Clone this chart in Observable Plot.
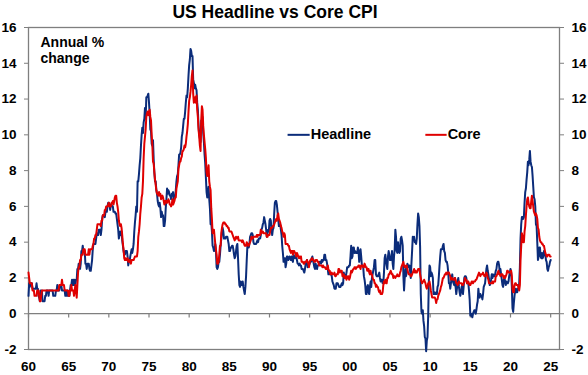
<!DOCTYPE html>
<html><head><meta charset="utf-8">
<script src="https://cdn.jsdelivr.net/npm/d3@7"></script>
<script src="https://cdn.jsdelivr.net/npm/@observablehq/plot@0.6"></script>
<style>
body{margin:0;background:#fff;}
#chart{width:588px;height:375px;}
#chart svg text{font-weight:bold;}
</style>
</head><body><div id="chart"></div>
<script>
// Monthly annual % change, starting January 1960
const startYear = 1960;
const headline = [
1.0,1.7,1.5,1.7,1.7,1.7,1.4,1.4,1.4,1.4,1.4,1.4, // 1960
1.7,1.4,1.4,1.0,0.9,0.7,1.3,1.0,1.3,0.7,0.7,0.7, // 1961
0.7,1.0,1.0,1.3,1.3,1.3,1.0,1.3,1.3,1.3,1.3,1.3, // 1962
1.3,1.0,1.0,1.0,1.0,1.3,1.3,1.6,1.3,1.3,1.3,1.6, // 1963
1.6,1.6,1.3,1.3,1.3,1.3,1.3,1.0,1.3,1.0,1.3,1.0, // 1964
1.0,1.0,1.3,1.6,1.6,1.9,1.6,1.9,1.6,1.9,1.6,1.9, // 1965
1.9,2.5,2.5,2.8,2.8,2.5,2.8,3.5,3.5,3.8,3.5,3.5, // 1966
3.5,2.8,2.8,2.5,2.8,2.8,2.8,2.5,2.4,2.4,2.7,3.0, // 1967
3.6,3.9,3.9,3.9,3.9,4.2,4.5,4.4,4.4,4.7,4.7,4.7, // 1968
4.4,4.7,5.3,5.5,5.5,5.5,5.4,5.7,5.7,5.7,6.0,6.2, // 1969
6.2,6.1,5.8,6.1,6.1,6.0,6.0,5.7,5.7,5.7,5.6,5.6, // 1970
5.3,5.0,4.7,4.2,4.4,4.6,4.4,4.6,4.1,3.8,3.5,3.3, // 1971
3.3,3.5,3.5,3.5,3.2,2.7,2.9,2.9,3.2,3.4,3.6,3.4, // 1972
3.6,3.9,4.6,5.1,5.5,6.0,5.7,7.4,7.4,7.8,8.3,8.7, // 1973
9.4,10.0,10.4,10.1,10.7,10.9,11.5,10.9,12.1,12.1,12.2,12.3, // 1974
11.8,11.2,10.3,10.2,9.5,9.4,9.7,8.6,7.9,7.4,7.4,6.9, // 1975
6.7,6.3,6.1,6.0,6.2,5.9,5.4,5.7,5.5,5.5,4.9,4.9, // 1976
5.2,5.9,6.4,7.0,6.7,6.9,6.8,6.6,6.6,6.4,6.7,6.7, // 1977
6.8,6.4,6.6,6.5,6.9,7.4,7.7,7.8,8.3,8.9,8.9,9.0, // 1978
9.3,9.9,10.1,10.5,10.9,10.9,11.3,11.8,12.2,12.1,12.6,13.3, // 1979
13.9,14.2,14.8,14.7,14.4,14.4,13.1,12.9,12.6,12.8,12.6,12.5, // 1980
11.8,11.4,10.5,10.0,9.8,9.6,10.8,10.8,11.0,10.1,9.6,8.9, // 1981
8.4,7.6,6.8,6.5,6.7,7.1,6.4,5.9,5.0,5.1,4.6,3.8, // 1982
3.7,3.5,3.6,3.9,3.5,2.6,2.5,2.6,2.9,2.9,3.3,3.8, // 1983
4.2,4.6,4.8,4.6,4.2,4.2,4.2,4.3,4.3,4.3,4.1,3.9, // 1984
3.5,3.5,3.7,3.7,3.8,3.8,3.6,3.3,3.1,3.2,3.5,3.8, // 1985
3.9,3.1,2.2,1.6,1.5,1.8,1.6,1.6,1.8,1.5,1.3,1.1, // 1986
1.5,2.1,3.0,3.8,3.9,3.7,3.9,4.3,4.4,4.5,4.5,4.4, // 1987
4.0,3.9,3.9,3.9,3.9,4.0,4.1,4.0,4.2,4.2,4.2,4.4, // 1988
4.7,4.8,5.0,5.1,5.4,5.2,5.0,4.7,4.3,4.5,4.7,4.6, // 1989
5.2,5.3,5.2,4.7,4.4,4.7,4.8,5.6,6.2,6.3,6.3,6.1, // 1990
5.7,5.3,4.9,4.9,5.0,4.7,4.4,3.8,3.4,2.9,3.0,3.1, // 1991
2.6,2.8,3.2,3.2,3.0,3.1,3.2,3.1,3.0,3.2,3.0,2.9, // 1992
3.3,3.2,3.1,3.2,3.2,3.0,2.8,2.8,2.7,2.8,2.7,2.7, // 1993
2.5,2.5,2.5,2.4,2.3,2.5,2.8,2.9,3.0,2.6,2.7,2.7, // 1994
2.8,2.9,2.9,3.1,3.2,3.0,2.8,2.6,2.5,2.8,2.6,2.5, // 1995
2.7,2.7,2.8,2.9,2.9,2.8,3.0,2.9,3.0,3.0,3.3,3.3, // 1996
3.0,3.0,2.8,2.5,2.2,2.3,2.2,2.2,2.2,2.1,1.8,1.7, // 1997
1.6,1.4,1.4,1.4,1.7,1.7,1.7,1.6,1.5,1.5,1.5,1.6, // 1998
1.7,1.6,1.7,2.3,2.1,2.0,2.1,2.3,2.6,2.6,2.6,2.7, // 1999
2.7,3.2,3.8,3.1,3.2,3.7,3.7,3.4,3.5,3.4,3.4,3.4, // 2000
3.7,3.5,2.9,3.3,3.6,3.2,2.7,2.7,2.6,2.1,1.9,1.6, // 2001
1.1,1.1,1.5,1.6,1.2,1.1,1.5,1.8,1.5,2.0,2.2,2.4, // 2002
2.6,3.0,3.0,2.2,2.1,2.1,2.1,2.2,2.3,2.0,1.8,1.9, // 2003
1.9,1.7,1.7,2.3,3.1,3.3,3.0,2.7,2.5,3.2,3.5,3.3, // 2004
3.0,3.0,3.1,3.5,2.8,2.5,3.2,3.6,4.7,4.3,3.5,3.4, // 2005
4.0,3.6,3.4,3.5,4.2,4.3,4.1,3.8,2.1,1.3,2.0,2.5, // 2006
2.1,2.4,2.8,2.6,2.7,2.7,2.4,2.0,2.8,3.5,4.3,4.1, // 2007
4.3,4.0,4.0,3.9,4.2,5.0,5.6,5.4,4.9,3.7,1.1,0.1, // 2008
0.0,0.2,-0.4,-0.7,-1.3,-1.4,-2.1,-1.5,-1.3,-0.2,1.8,2.7, // 2009
2.6,2.1,2.3,2.2,2.0,1.1,1.2,1.1,1.1,1.2,1.1,1.5, // 2010
1.6,2.1,2.7,3.2,3.6,3.6,3.6,3.8,3.9,3.5,3.4,3.0, // 2011
2.9,2.9,2.7,2.3,1.7,1.7,1.4,1.7,2.0,2.2,1.8,1.7, // 2012
1.6,2.0,1.5,1.1,1.4,1.8,2.0,1.5,1.2,1.0,1.2,1.5, // 2013
1.6,1.1,1.5,2.0,2.1,2.1,2.0,1.7,1.7,1.7,1.3,0.8, // 2014
-0.1,0.0,-0.1,-0.2,0.0,0.1,0.2,0.2,0.0,0.2,0.5,0.7, // 2015
1.4,1.0,0.9,1.1,1.0,1.0,0.8,1.1,1.5,1.6,1.7,2.1, // 2016
2.5,2.7,2.4,2.2,1.9,1.6,1.7,1.9,2.2,2.0,2.2,2.1, // 2017
2.1,2.2,2.4,2.5,2.8,2.9,2.9,2.7,2.3,2.5,2.2,1.9, // 2018
1.6,1.5,1.9,2.0,1.8,1.6,1.8,1.7,1.7,1.8,2.1,2.3, // 2019
2.5,2.3,1.5,0.3,0.1,0.6,1.0,1.3,1.4,1.2,1.2,1.4, // 2020
1.4,1.7,2.6,4.2,5.0,5.4,5.4,5.3,5.4,6.2,6.8,7.0, // 2021
7.5,7.9,8.5,8.3,8.6,9.1,8.5,8.3,8.2,7.7,7.1,6.5, // 2022
6.4,6.0,5.0,4.9,4.0,3.0,3.2,3.7,3.7,3.2,3.1,3.4, // 2023
3.1,3.2,3.5,3.4,3.3,3.0,2.9,2.5,2.4,2.6,2.7,2.9, // 2024
3.0 // 2025
];
const core = [
2.3,2.0,1.7,1.7,1.7,1.7,1.3,1.3,1.3,1.0,1.0,1.0, // 1960
1.0,1.3,1.3,1.3,1.0,0.7,0.7,1.0,1.3,1.3,1.3,1.3, // 1961
1.3,1.3,1.3,1.3,1.3,1.3,1.3,1.3,1.3,1.3,1.3,1.3, // 1962
1.3,1.3,1.3,1.3,1.3,1.3,1.3,1.3,1.3,1.3,1.6,1.6, // 1963
1.6,1.6,1.9,1.6,1.6,1.6,1.3,1.3,1.3,1.3,1.3,1.3, // 1964
1.0,1.0,1.3,1.3,1.6,1.3,1.3,1.3,1.0,1.3,1.6,1.3, // 1965
0.9,1.6,2.3,2.6,2.6,3.0,3.0,3.3,3.3,3.3,3.6,3.6, // 1966
3.6,3.3,3.3,3.3,3.3,3.3,3.6,3.3,3.6,3.6,3.6,3.6, // 1967
3.8,3.9,4.2,4.2,4.4,4.4,4.7,5.0,5.0,5.0,5.0,5.0, // 1968
4.9,5.2,5.2,5.5,5.5,5.5,5.8,5.8,6.0,6.0,6.0,6.1, // 1969
6.2,6.0,6.0,6.0,6.2,6.2,6.3,6.1,6.3,6.5,6.6,6.6, // 1970
6.2,6.0,5.7,5.2,5.0,4.9,5.0,4.8,4.4,3.9,3.6,3.1, // 1971
3.0,3.1,3.0,3.0,3.1,2.9,2.9,3.0,2.9,2.8,3.0,3.0, // 1972
3.0,3.0,3.1,3.2,3.2,3.2,3.2,3.5,4.3,4.6,5.0,5.6, // 1973
6.0,6.5,6.7,7.4,8.7,9.5,9.9,10.3,11.0,11.2,11.3,11.1, // 1974
11.3,11.4,11.0,10.8,10.0,9.4,8.5,8.4,7.9,7.5,7.2,6.9, // 1975
6.7,6.7,6.6,6.8,6.6,6.7,6.4,6.5,6.6,6.5,6.3,6.1, // 1976
6.3,6.2,6.3,6.2,6.3,6.4,6.3,6.1,6.1,6.0,6.1,6.4, // 1977
6.1,6.2,6.3,6.5,6.5,7.0,7.2,7.4,8.1,8.3,8.5,8.5, // 1978
8.7,8.8,9.1,9.1,9.2,9.4,9.3,9.5,9.9,10.2,10.6,11.3, // 1979
11.9,12.1,12.4,12.8,13.3,13.6,12.3,11.8,11.9,12.1,11.8,12.2, // 1980
11.4,11.0,10.3,9.9,9.4,9.1,10.8,11.6,11.4,10.5,10.0,9.6, // 1981
9.2,8.7,7.9,7.7,7.9,8.3,7.4,7.1,6.9,5.9,5.3,4.5, // 1982
4.7,4.7,4.3,3.9,3.6,3.3,2.8,2.8,2.9,3.3,3.8,3.8, // 1983
4.5,4.8,5.0,5.1,5.1,5.1,5.0,5.0,4.9,4.9,4.8,4.8, // 1984
4.6,4.6,4.6,4.6,4.5,4.4,4.3,4.2,4.1,4.2,4.3,4.2, // 1985
4.2,4.3,4.1,4.1,4.1,4.1,4.1,4.0,4.1,4.0,3.9,3.8, // 1986
3.8,3.8,4.0,3.9,3.8,3.8,3.9,4.0,4.1,4.3,4.2,4.2, // 1987
4.3,4.3,4.3,4.3,4.3,4.4,4.3,4.4,4.4,4.4,4.4,4.7, // 1988
4.5,4.6,4.6,4.5,4.5,4.5,4.5,4.5,4.3,4.3,4.4,4.4, // 1989
4.4,4.6,4.8,4.8,4.8,4.9,4.9,5.0,5.1,5.2,5.3,5.2, // 1990
5.5,5.6,5.3,5.2,5.1,4.9,4.8,4.6,4.5,4.3,4.5,4.4, // 1991
3.9,3.9,3.9,3.9,3.8,3.8,3.6,3.5,3.4,3.5,3.5,3.3, // 1992
3.5,3.5,3.4,3.4,3.2,3.4,3.3,3.2,3.1,3.2,3.1,3.2, // 1993
2.9,2.9,2.9,2.8,2.8,2.9,2.9,2.9,3.0,2.9,2.8,2.6, // 1994
2.9,3.0,3.0,3.1,3.1,3.0,3.0,2.9,2.9,3.0,3.0,3.0, // 1995
2.9,2.9,2.7,2.7,2.7,2.7,2.7,2.6,2.7,2.6,2.6,2.6, // 1996
2.5,2.5,2.5,2.7,2.5,2.4,2.4,2.2,2.2,2.3,2.2,2.2, // 1997
2.2,2.3,2.1,2.1,2.2,2.2,2.2,2.5,2.5,2.3,2.4,2.4, // 1998
2.4,2.1,2.1,2.2,2.0,2.1,2.1,1.9,2.0,2.1,2.1,1.9, // 1999
2.0,2.2,2.4,2.3,2.4,2.5,2.5,2.6,2.6,2.5,2.6,2.6, // 2000
2.6,2.7,2.7,2.6,2.5,2.7,2.7,2.7,2.6,2.6,2.8,2.7, // 2001
2.6,2.6,2.4,2.5,2.5,2.3,2.2,2.4,2.2,2.2,2.0,1.9, // 2002
1.9,1.7,1.7,1.5,1.6,1.5,1.5,1.3,1.2,1.3,1.1,1.1, // 2003
1.1,1.2,1.6,1.8,1.7,1.9,1.8,1.7,2.0,2.0,2.2,2.2, // 2004
2.3,2.4,2.3,2.2,2.2,2.0,2.1,2.1,2.0,2.1,2.1,2.2, // 2005
2.1,2.1,2.1,2.3,2.4,2.6,2.7,2.8,2.9,2.7,2.6,2.6, // 2006
2.7,2.7,2.5,2.3,2.2,2.2,2.2,2.1,2.1,2.2,2.3,2.4, // 2007
2.5,2.3,2.4,2.3,2.3,2.4,2.5,2.5,2.5,2.2,2.0,1.8, // 2008
1.7,1.8,1.8,1.9,1.8,1.7,1.5,1.4,1.5,1.7,1.7,1.8, // 2009
1.6,1.3,1.1,0.9,0.9,0.9,0.9,0.9,0.8,0.6,0.8,0.8, // 2010
1.0,1.1,1.2,1.3,1.5,1.6,1.8,2.0,2.0,2.1,2.2,2.2, // 2011
2.3,2.2,2.3,2.3,2.3,2.2,2.1,1.9,2.0,2.0,1.9,1.9, // 2012
1.9,2.0,1.9,1.7,1.7,1.6,1.7,1.8,1.7,1.7,1.7,1.7, // 2013
1.6,1.6,1.7,1.8,2.0,1.9,1.9,1.7,1.7,1.8,1.7,1.6, // 2014
1.6,1.7,1.8,1.8,1.7,1.8,1.8,1.8,1.9,1.9,2.0,2.1, // 2015
2.2,2.3,2.2,2.1,2.2,2.2,2.2,2.3,2.2,2.1,2.1,2.2, // 2016
2.3,2.2,2.0,1.9,1.7,1.7,1.7,1.7,1.7,1.8,1.7,1.8, // 2017
1.8,1.8,2.1,2.1,2.2,2.3,2.4,2.2,2.2,2.1,2.2,2.2, // 2018
2.2,2.1,2.0,2.1,2.0,2.1,2.2,2.4,2.4,2.3,2.3,2.3, // 2019
2.3,2.4,2.1,1.4,1.2,1.2,1.6,1.7,1.7,1.6,1.6,1.6, // 2020
1.4,1.3,1.6,3.0,3.8,4.5,4.3,4.0,4.0,4.6,4.9,5.5, // 2021
6.0,6.4,6.5,6.2,6.0,5.9,5.9,6.3,6.6,6.3,6.0,5.7, // 2022
5.6,5.5,5.6,5.5,5.3,4.8,4.7,4.3,4.1,4.0,4.0,3.9, // 2023
3.9,3.8,3.8,3.6,3.4,3.3,3.2,3.2,3.3,3.3,3.3,3.2, // 2024
3.2 // 2025
];
const seriesNames = ["Headline", "Core"];
const seriesColors = ["#0b2c7a", "#e00000"];
const yTicks = [-2, 0, 2, 4, 6, 8, 10, 12, 14, 16];
const xTicks = [1960,1965,1970,1975,1980,1985,1990,1995,2000,2005,2010,2015,2020,2025];
const xTickLabels = ["60","65","70","75","80","85","90","95","00","05","10","15","20","25"];
const titleText = "US Headline vs Core CPI";
const noteText = ["Annual %", "change"];

// build table
const rows = [];
headline.forEach((v, i) => rows.push({series: "Headline", t: startYear + i / 12, v}));
core.forEach((v, i) => rows.push({series: "Core", t: startYear + i / 12, v}));

// legend layout (positions in chart units, not data)
const legendX = {Headline: [1992.25, 1995.0], Core: [2009.4, 2012.05]};
const legendY = 10;

const font = "'Liberation Sans', Arial, Helvetica, sans-serif";
const grey = "#7f7f7f";

const chart = Plot.plot({
  width: 588, height: 375,
  marginLeft: 28, marginRight: 29, marginTop: 27, marginBottom: 26,
  style: {fontFamily: font, fontSize: "13.5px", fontWeight: "bold", color: "#000", background: "#fff", overflow: "visible"},
  x: {domain: [1960, 2026.1]},
  y: {domain: [-2, 16]},
  color: {domain: seriesNames, range: seriesColors},
  marks: [
    Plot.ruleY([0], {stroke: grey, strokeWidth: 1.2}),
    Plot.ruleX(xTicks, {y1: 0, y2: -0.24, stroke: grey, strokeWidth: 1.2}),
    Plot.frame({stroke: grey, strokeWidth: 1.3}),
    Plot.axisY({anchor: "left", ticks: yTicks, tickSize: 4, tickPadding: 8, tickFormat: d => String(d), stroke: grey, fill: "#000", fontWeight: "bold", label: null}),
    Plot.axisY({anchor: "right", ticks: yTicks, tickSize: 4, tickPadding: 8, tickFormat: d => String(d), stroke: grey, fill: "#000", fontWeight: "bold", label: null}),
    Plot.axisX({anchor: "bottom", ticks: xTicks, tickSize: 0, tickPadding: 12, tickFormat: d => xTickLabels[xTicks.indexOf(d)], fill: "#000", fontWeight: "bold", label: null}),
    Plot.line(rows, {x: "t", y: "v", z: "series", stroke: "series", strokeWidth: 2, curve: "linear"}),
    Plot.link(seriesNames, {x1: d => legendX[d][0], x2: d => legendX[d][1], y1: legendY, y2: legendY, stroke: d => d, strokeWidth: 2}),
    Plot.text(seriesNames, {x: d => legendX[d][1], y: legendY, text: d => d, textAnchor: "start", dx: 1, dy: 0, fontSize: 14.5, fontWeight: "bold", fill: "#000"}),
    Plot.text([noteText.join("\n")], {frameAnchor: "top-left", dx: 12, dy: 9, lineAnchor: "top", lineHeight: 1.1, textAnchor: "start", fontSize: 14, fontWeight: "bold", fill: "#000"}),
    Plot.text([titleText], {frameAnchor: "top", dx: -19, dy: -15, lineAnchor: "middle", fontSize: 17.5, fontWeight: "bold", fill: "#000"})
  ]
});
document.getElementById("chart").appendChild(chart);
</script>
</body></html>
